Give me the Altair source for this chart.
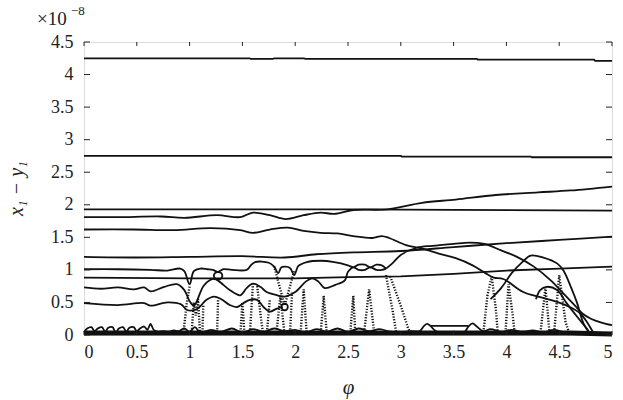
import altair as alt
import pandas as pd

# ---------------- data (values in units of 1e-8) ----------------
x_ticks = [0, 0.5, 1, 1.5, 2, 2.5, 3, 3.5, 4, 4.5, 5]
y_ticks = [0, 0.5, 1, 1.5, 2, 2.5, 3, 3.5, 4, 4.5]

# step-like flat branches
c_top_phi = [0, 1.57, 1.58, 1.79, 1.8, 2.08, 2.1, 3.72, 3.73, 4.83, 4.84, 5]
c_top_val = [4.25, 4.25, 4.24, 4.24, 4.25, 4.25, 4.24, 4.24, 4.23, 4.23, 4.21, 4.21]
c_d_phi = [0, 3.0, 3.01, 4.23, 4.24, 5]
c_d_val = [2.75, 2.75, 2.74, 2.74, 2.73, 2.73]
c_a_phi = [0, 2.5, 5]
c_a_val = [1.93, 1.93, 1.91]
c_k_phi = [0, 1.0, 2.0, 2.5, 3.0, 3.5, 4.0, 4.5, 5]
c_k_val = [0.88, 0.87, 0.87, 0.89, 0.90, 0.94, 0.99, 1.02, 1.05]

# wiggly branches
c_b_phi = [0, 0.32, 0.73, 0.95, 1.26, 1.48, 1.6, 1.76, 1.91, 2.08, 2.24, 2.37, 2.55, 2.87, 3.2, 3.52, 3.9, 4.3, 4.61, 5]
c_b_val = [1.81, 1.81, 1.82, 1.80, 1.84, 1.81, 1.88, 1.84, 1.78, 1.84, 1.88, 1.86, 1.92, 1.93, 2.03, 2.08, 2.15, 2.19, 2.22, 2.28]
c_e_phi = [0, 0.47, 0.85, 1.2, 1.48, 1.6, 1.76, 1.93, 2.08, 2.24, 2.4, 2.55, 2.73, 2.82, 2.89, 3.05, 3.2, 3.36,
           3.52, 3.68, 3.8, 3.88, 3.97, 4.16, 4.32, 4.48, 4.6, 4.7, 4.77, 4.82, 4.85]
c_e_val = [1.62, 1.62, 1.61, 1.64, 1.61, 1.57, 1.62, 1.65, 1.60, 1.57, 1.56, 1.52, 1.49, 1.52, 1.49, 1.38, 1.33, 1.25,
           1.18, 1.07, 0.95, 0.88, 0.86, 0.66, 0.58, 0.51, 0.43, 0.33, 0.18, 0.05, 0.0]
c_f_phi = [0, 0.5, 1.0, 1.5, 1.9, 2.2, 2.55, 3.0, 3.5, 4.0, 4.5, 5]
c_f_val = [1.20, 1.19, 1.20, 1.21, 1.19, 1.24, 1.27, 1.29, 1.35, 1.41, 1.46, 1.51]
c_g_phi = [2.86, 2.92, 3.0, 3.15, 3.3, 3.5, 3.65, 3.79, 3.95, 4.1, 4.26, 4.42, 4.55, 4.65, 4.72, 4.8, 4.9, 5]
c_g_val = [1.02, 1.1, 1.23, 1.34, 1.37, 1.40, 1.42, 1.40, 1.30, 1.20, 1.05, 0.84, 0.62, 0.45, 0.33, 0.25, 0.19, 0.15]
c_h_phi = [3.85, 3.95, 4.05, 4.15, 4.23, 4.35, 4.48, 4.54, 4.61, 4.67, 4.73, 4.8]
c_h_val = [0.55, 0.72, 0.95, 1.12, 1.22, 1.19, 1.10, 0.99, 0.74, 0.49, 0.18, 0.0]
c_j_phi = [4.28, 4.32, 4.38, 4.48, 4.57, 4.67, 4.77, 4.8]
c_j_val = [0.55, 0.69, 0.74, 0.69, 0.49, 0.28, 0.08, 0.0]
c_l_phi = [0, 0.32, 0.63, 0.79, 0.91, 0.95, 1.0, 1.04, 1.1, 1.17, 1.22, 1.27, 1.32, 1.4, 1.54, 1.58, 1.62, 1.75,
           1.8, 1.84, 1.87, 1.95, 1.99, 2.03, 2.11, 2.24, 2.37, 2.5, 2.55, 2.6, 2.66, 2.71, 2.77, 2.82, 2.86]
c_l_val = [1.01, 1.01, 1.0, 0.99, 1.02, 0.98, 0.78, 0.98, 1.02, 1.01, 1.0, 0.97, 1.01, 1.0, 1.0, 1.07, 1.12, 1.11,
           1.05, 0.95, 1.04, 1.03, 0.92, 1.06, 1.12, 1.14, 1.12, 1.07, 1.04, 1.08, 1.08, 1.04, 1.08, 1.07, 1.02]
c_m_phi = [0, 0.16, 0.32, 0.47, 0.57, 0.63, 0.76, 0.88, 0.95, 1.0, 1.04, 1.13, 1.19, 1.24, 1.32, 1.38, 1.48, 1.54,
           1.6, 1.67, 1.73, 1.83, 1.9, 2.0, 2.1, 2.16, 2.22, 2.28, 2.38, 2.47, 2.5, 2.55, 2.6, 2.66, 2.71, 2.77, 2.82, 2.86]
c_m_val = [0.73, 0.71, 0.73, 0.70, 0.73, 0.67, 0.74, 0.78, 0.69, 0.52, 0.45, 0.75, 0.84, 0.86, 0.77, 0.69, 0.61, 0.72,
           0.79, 0.74, 0.66, 0.61, 0.59, 0.66, 0.82, 0.87, 0.82, 0.72, 0.77, 0.84, 0.97, 1.04, 1.0, 1.0, 1.04, 1.0, 1.0, 1.02]
c_n_phi = [0, 0.32, 0.57, 0.63, 0.79, 0.92, 0.98, 1.07, 1.16, 1.23, 1.3, 1.38, 1.45, 1.51, 1.57, 1.64, 1.7, 1.76, 1.82, 1.88]
c_n_val = [0.49, 0.46, 0.49, 0.45, 0.50, 0.47, 0.38, 0.40, 0.54, 0.59, 0.55, 0.46, 0.43, 0.49, 0.54, 0.54, 0.43, 0.36, 0.40, 0.43]
loop1_phi = [1.27, 1.3, 1.31, 1.3, 1.27, 1.24, 1.23, 1.24, 1.27]
loop1_val = [0.97, 0.95, 0.91, 0.87, 0.85, 0.87, 0.91, 0.95, 0.97]
loop2_phi = [1.9, 1.92, 1.93, 1.92, 1.9, 1.88, 1.87, 1.88, 1.9]
loop2_val = [0.48, 0.47, 0.43, 0.39, 0.38, 0.39, 0.43, 0.47, 0.48]

# near-zero oscillating band
z_phi = [0, 0.03, 0.07, 0.1, 0.13, 0.17, 0.2, 0.23, 0.27, 0.3, 0.33, 0.37, 0.4, 0.43, 0.47, 0.5, 0.53, 0.57,
         0.6, 0.63, 0.66, 0.7, 0.75, 0.8, 0.85, 0.9, 0.95, 1.0, 1.05, 1.1, 1.2, 1.3, 1.4, 1.5, 1.6, 1.7, 1.8,
         1.9, 2.0, 2.1, 2.2, 2.3, 2.4, 2.5, 2.6, 2.7, 2.8, 2.9, 3.0, 3.1, 3.18, 3.22, 3.25, 3.28, 3.33, 3.4,
         3.5, 3.6, 3.64, 3.68, 3.72, 3.78, 3.85, 3.95, 4.05, 4.15, 4.25, 4.35, 4.45, 4.55, 4.65, 4.8, 5]
z_val = [0.04, 0.1, 0.12, 0.06, 0.1, 0.12, 0.05, 0.11, 0.12, 0.04, 0.1, 0.12, 0.05, 0.11, 0.12, 0.06, 0.1, 0.13,
         0.08, 0.17, 0.08, 0.05, 0.06, 0.05, 0.07, 0.06, 0.1, 0.05, 0.12, 0.04, 0.08, 0.05, 0.1, 0.04, 0.09, 0.05, 0.1,
         0.06, 0.08, 0.04, 0.09, 0.05, 0.1, 0.05, 0.1, 0.06, 0.09, 0.05, 0.04, 0.06, 0.06, 0.14, 0.17, 0.14, 0.06, 0.03,
         0.05, 0.04, 0.13, 0.18, 0.13, 0.06, 0.09, 0.05, 0.08, 0.05, 0.07, 0.04, 0.08, 0.04, 0.03, 0.02, 0.02]
plateau_phi = [3.28, 3.64]
plateau_val = [0.14, 0.14]
base_phi = [0, 4.6, 5]
base_val = [0.03, 0.03, 0.015]

# dotted (scattered) branches
dotted = {
    "d1": ([0.94, 0.97, 1.0], [0.0, 0.45, 0.75]),
    "d2": ([1.02, 1.04, 1.06, 1.08, 1.1], [0.05, 0.5, 0.3, 0.55, 0.0]),
    "d3": ([1.12, 1.13], [0.0, 0.45]),
    "d4": ([1.26, 1.27], [0.0, 0.55]),
    "d5": ([1.48, 1.5, 1.52], [0.0, 0.5, 0.0]),
    "d6": ([1.57, 1.6], [0.0, 0.78]),
    "d7": ([1.64, 1.68, 1.7], [0.75, 0.2, 0.0]),
    "d8": ([1.73, 1.76], [0.0, 0.55]),
    "d9": ([1.8, 1.9, 1.99], [1.06, 0.45, 0.98]),
    "d10": ([1.82, 1.86, 1.9], [0.0, 0.6, 0.0]),
    "d11": ([1.95, 1.97], [0.0, 0.65]),
    "d12": ([2.05, 2.08, 2.11], [0.0, 0.7, 0.0]),
    "d13": ([2.24, 2.27, 2.3], [0.0, 0.6, 0.0]),
    "d14": ([2.52, 2.55, 2.57], [0.0, 0.6, 0.0]),
    "d15": ([2.65, 2.7, 2.75], [0.0, 0.7, 0.0]),
    "d16": ([2.86, 2.92, 2.96], [0.92, 0.4, 0.0]),
    "d17": ([2.9, 3.0, 3.07, 3.1], [0.9, 0.45, 0.1, 0.0]),
    "d18": ([3.78, 3.82, 3.86], [0.0, 0.6, 0.9]),
    "d19": ([3.86, 3.9, 3.92], [0.9, 0.4, 0.0]),
    "d20": ([3.99, 4.02, 4.06, 4.08], [0.0, 0.78, 0.3, 0.0]),
    "d21": ([4.32, 4.37, 4.41], [0.0, 0.73, 0.0]),
    "d22": ([4.45, 4.5, 4.56, 4.6], [0.0, 0.92, 0.2, 0.0]),
}

flat_curves = {"top": (c_top_phi, c_top_val), "d": (c_d_phi, c_d_val),
               "a": (c_a_phi, c_a_val), "k": (c_k_phi, c_k_val),
               "plateau": (plateau_phi, plateau_val)}
smooth_curves = {"b": (c_b_phi, c_b_val), "e": (c_e_phi, c_e_val), "f": (c_f_phi, c_f_val),
                 "g": (c_g_phi, c_g_val), "h": (c_h_phi, c_h_val), "j": (c_j_phi, c_j_val),
                 "l": (c_l_phi, c_l_val), "m": (c_m_phi, c_m_val), "n": (c_n_phi, c_n_val),
                 "loop1": (loop1_phi, loop1_val), "loop2": (loop2_phi, loop2_val),
                 "z": (z_phi, z_val)}


def to_df(curves):
    rows = []
    for name, (ps, vs) in curves.items():
        for i, (p, v) in enumerate(zip(ps, vs)):
            rows.append({"s": name, "i": i, "phi": p, "v": v})
    return pd.DataFrame(rows)


df_flat = to_df(flat_curves)
df_smooth = to_df(smooth_curves)
df_dot = to_df(dotted)
df_base = to_df({"base": (base_phi, base_val)})
df_xt = pd.DataFrame({"phi": x_ticks})
df_yt = pd.DataFrame({"v": y_ticks})

W, H = 528, 293
FONT = "Liberation Serif"

xscale = alt.Scale(domain=[0, 5], nice=False, zero=False)
yscale = alt.Scale(domain=[0, 4.5], nice=False, zero=False)

x_axis = alt.Axis(values=x_ticks, format=".1~f", title="φ", tickSize=0, domain=False, grid=False,
                  labelFont=FONT, labelFontSize=18, labelColor="#222", labelPadding=8,
                  titleFont=FONT, titleFontSize=21, titleFontStyle="italic", titleFontWeight="normal",
                  titleColor="#222", titleX=264, titleY=52, titleBaseline="middle")
y_axis = alt.Axis(values=y_ticks, format=".1~f", title="x₁ − y₁", tickSize=0, domain=False, grid=False,
                  labelFont=FONT, labelFontSize=18, labelColor="#222", labelPadding=11,
                  titleFont=FONT, titleFontSize=20, titleFontStyle="italic", titleFontWeight="normal",
                  titleColor="#222", titleX=-68, titleY=146, titleBaseline="middle", titleAlign="center")

X = alt.X("phi:Q", scale=xscale, axis=x_axis)
Y = alt.Y("v:Q", scale=yscale, axis=y_axis)

flat = alt.Chart(df_flat).mark_line(color="#111", strokeWidth=1.8).encode(
    x=X, y=Y, detail="s:N", order="i:Q")
smooth = alt.Chart(df_smooth).mark_line(color="#111", strokeWidth=1.8, interpolate="catmull-rom").encode(
    x=X, y=Y, detail="s:N", order="i:Q")
dots = alt.Chart(df_dot).mark_line(color="#111", strokeWidth=2.4, strokeDash=[1.2, 1.6]).encode(
    x=X, y=Y, detail="s:N", order="i:Q")
base = alt.Chart(df_base).mark_line(color="#111", strokeWidth=5).encode(
    x=X, y=Y, detail="s:N", order="i:Q")

tick_style = dict(color="#222", strokeWidth=1)
lt = alt.Chart(df_yt).mark_rule(**tick_style).encode(y=Y, x=alt.value(0), x2=alt.value(6))
rt = alt.Chart(df_yt).mark_rule(**tick_style).encode(y=Y, x=alt.value(W - 6), x2=alt.value(W))
bt = alt.Chart(df_xt).mark_rule(**tick_style).encode(x=X, y=alt.value(H - 4), y2=alt.value(H))
tt = alt.Chart(df_xt).mark_rule(**tick_style).encode(x=X, y=alt.value(0), y2=alt.value(4))

exp1 = alt.Chart(df_xt.head(1)).mark_text(font=FONT, fontSize=19, align="left", baseline="alphabetic",
                                          color="#222").encode(x=alt.value(-47), y=alt.value(-17),
                                                               text=alt.value("×10"))
exp2 = alt.Chart(df_xt.head(1)).mark_text(font=FONT, fontSize=13, align="left", baseline="alphabetic",
                                          color="#222").encode(x=alt.value(-13), y=alt.value(-27),
                                                               text=alt.value("−8"))

chart = alt.layer(base, flat, smooth, dots, lt, rt, bt, tt, exp1, exp2).properties(
    width=W, height=H,
    autosize=alt.AutoSizeParams(type="none"),
    padding={"left": 84, "top": 42, "right": 11, "bottom": 65},
).configure_view(stroke="#222", strokeWidth=1.2).configure(background="white")

chart.save("out.html", embed_options={"renderer": "svg", "actions": False})
